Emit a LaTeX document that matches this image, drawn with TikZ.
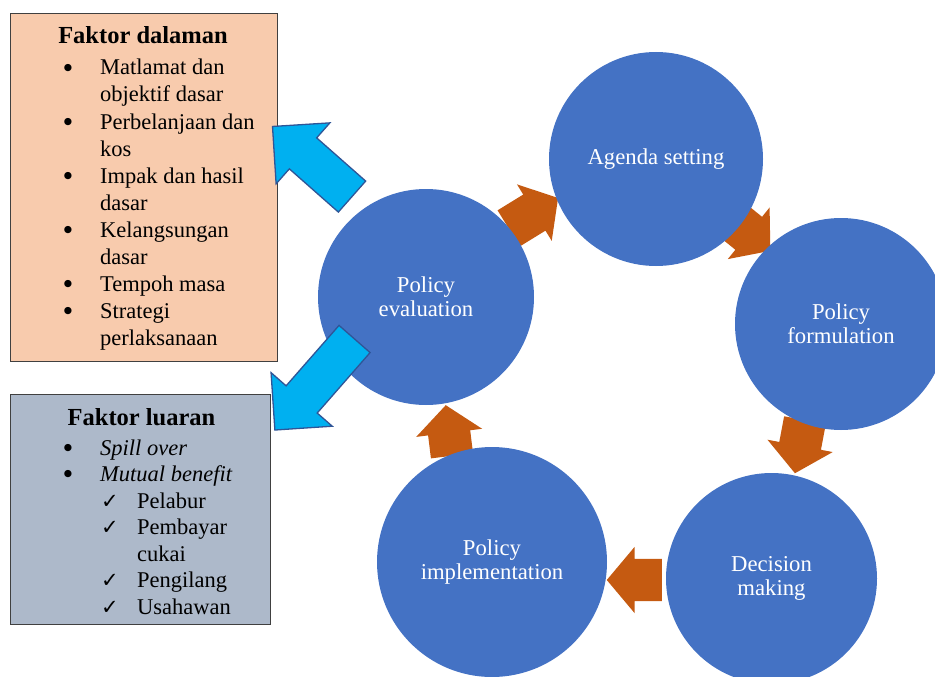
\documentclass[tikz,border=0pt]{standalone}
\usepackage{fontspec}
\setmainfont{Liberation Serif}
\newfontfamily\simbol{DejaVu Sans}
\usetikzlibrary{shapes.arrows,positioning}

\definecolor{lingkaran}{HTML}{4472C4}
\definecolor{oren}{HTML}{C55A11}
\definecolor{biru}{HTML}{00B0F0}
\definecolor{birutepi}{HTML}{2F5597}
\definecolor{pic}{HTML}{F8CBAD}
\definecolor{kelabu}{HTML}{ADB9CA}

\tikzset{
  tahap/.style={circle, fill=lingkaran, text=white, align=center, inner sep=0pt, font=\fontsize{22.7}{24}\selectfont},
  panah/.style={single arrow, fill=oren, inner xsep=0pt, inner ysep=21pt, minimum width=66pt, single arrow head extend=12pt, single arrow tip angle=100, anchor=tail},
  panahluar/.style={single arrow, draw=birutepi, line width=1.3pt, fill=biru, inner xsep=0pt, inner ysep=20pt, minimum width=80pt, single arrow head extend=20pt, anchor=tail},
  kotak/.style={draw=black!75, line width=1.2pt, anchor=north west},
  teks/.style={anchor=base west, inner sep=0pt, font=\fontsize{22.5}{27}\selectfont},
  tajuk/.style={anchor=base, inner sep=0pt, font=\fontsize{24.5}{27}\selectfont\bfseries},
  bulet/.style={inner sep=0pt, font=\fontsize{9.5}{10}\simbol},
}

\begin{document}
\begin{tikzpicture}[x=1pt, y=-1pt]
    \useasboundingbox (0,0) rectangle (935,677);
    \clip (0,0) rectangle (935,677);

    % anak panah kitaran
    \node[panah, rotate=31.6, minimum height=58pt] (p1) at (508.5,228.5) {};
    \node[panah, rotate=-39, minimum height=44pt] (p2) at (736,223) {};
    \node[panah, rotate=-100.7, minimum height=54pt] (p3) at (805,420) {};
    \node[panah, rotate=180, minimum height=55pt] (p4) at (662,580) {};
    \node[panah, rotate=97, minimum height=51pt] (p5) at (452,456) {};

    % tahap dasar
    \node[tahap, minimum size=214pt] (agenda) at (656,159) {Agenda setting};
    \node[tahap, minimum size=212pt] (formulasi) at (841,324) {Policy\\formulation};
    \node[tahap, minimum size=211pt] (keputusan) at (771.5,578.5) {Decision\\making};
    \node[tahap, minimum size=230pt] (pelaksanaan) at (492,562) {Policy\\implementation};
    \node[tahap, minimum size=216pt] (penilaian) at (426,297) {Policy\\evaluation};

    % faktor dalaman
    \node[kotak, fill=pic, minimum width=267pt, minimum height=348pt] (dalaman) at (10,13) {};
    \node[tajuk] (tajukdalam) at (143,44) {Faktor dalaman};
    \foreach \baris/\titik [count=\i] in {Matlamat dan/1, objektif dasar/0, Perbelanjaan dan/1, kos/0, Impak dan hasil/1, dasar/0, Kelangsungan/1, dasar/0, Tempoh masa/1, Strategi/1, perlaksanaan/0} {
        \node[teks] (dalam\i) at (100,48+27*\i) {\baris};
        \ifnum\titik=1 \node[bulet] (titik\i) at (68,41+27*\i) {●}; \fi
    }

    % faktor luaran
    \node[kotak, fill=kelabu, minimum width=260pt, minimum height=230pt] (luaran) at (10,394) {};
    \node[tajuk] (tajukluar) at (141.5,425) {Faktor luaran};
    \foreach \baris [count=\i] in {Spill over, Mutual benefit} {
        \node[teks] (luar\i) at (100,428.5+26.5*\i) {\textit{\baris}};
        \node[bulet] (bulat\i) at (68,421.5+26.5*\i) {●};
    }
    \foreach \baris/\tanda [count=\i] in {Pelabur/1, Pembayar/1, cukai/0, Pengilang/1, Usahawan/1} {
        \node[teks] (semak\i) at (137,481.5+26.5*\i) {\baris};
        \ifnum\tanda=1 \node[teks, font=\fontsize{21}{27}\simbol] (tanda\i) at (101,481.5+26.5*\i) {✓}; \fi
    }

    % anak panah ke faktor
    \node[panahluar, rotate=138.6, minimum height=106pt] (kedalam) at (352.5,197) {};
    \node[panahluar, rotate=-131.2, minimum height=121pt] (keluar) at (355,338.5) {};
\end{tikzpicture}
\end{document}
